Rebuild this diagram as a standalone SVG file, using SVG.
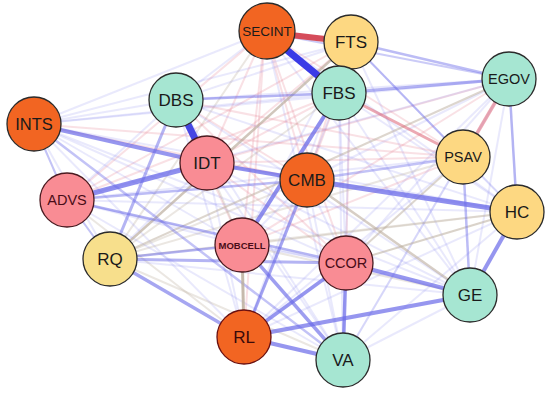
<svg xmlns="http://www.w3.org/2000/svg" width="550" height="393" viewBox="0 0 550 393">
<style>
.fb{stroke:#7a7aee;stroke-opacity:.17;stroke-width:2;fill:none}
.fr{stroke:#e27888;stroke-opacity:.22;stroke-width:2;fill:none}
.ft{stroke:#b8a898;stroke-opacity:.28;stroke-width:2;fill:none}
.b{stroke:#6a6ae8;fill:none}
.r{stroke:#e07080;fill:none}
.t{stroke:#bcae9e;fill:none}
.node circle{stroke:#2b2b2b;stroke-width:1.3}
.o circle{fill:#f26522}
.y circle{fill:#fdd882}
.g circle{fill:#a6e6d2}
.p circle{fill:#f98c94;stroke:#4a1a20}
text{font-family:"Liberation Sans",Arial,sans-serif;text-anchor:middle;dominant-baseline:central;fill:#1a1a1a;font-size:17px}
.p text{fill:#4a0c18}
.s14{font-size:14.5px}
.s13{font-size:13.5px}
.s16{font-size:16.5px}
.sm{font-size:9.5px;font-weight:bold}
</style>
<rect width="550" height="393" fill="#ffffff"/>
<g id="connectors">
<line class="fb" x1="265" y1="32" x2="176" y2="100"/>
<line class="fb" x1="265" y1="32" x2="34" y2="124"/>
<line class="fr" x1="265" y1="32" x2="207" y2="163"/>
<line class="fr" x1="265" y1="32" x2="463" y2="157"/>
<line class="fr" x1="265" y1="32" x2="307" y2="180"/>
<line class="fr" x1="265" y1="32" x2="67" y2="200"/>
<line class="fb" x1="265" y1="32" x2="517" y2="212"/>
<line class="fr" x1="265" y1="32" x2="242" y2="245"/>
<line class="ft" x1="265" y1="32" x2="110" y2="259"/>
<line class="fr" x1="265" y1="32" x2="346" y2="263"/>
<line class="fb" x1="265" y1="32" x2="470" y2="295"/>
<line class="fr" x1="265" y1="32" x2="244" y2="337"/>
<line class="fb" x1="265" y1="32" x2="343" y2="360"/>
<line class="fr" x1="351" y1="42" x2="339" y2="93"/>
<line class="fb" x1="351" y1="42" x2="176" y2="100"/>
<line class="fb" x1="351" y1="42" x2="34" y2="124"/>
<line class="fr" x1="351" y1="42" x2="207" y2="163"/>
<line class="fr" x1="351" y1="42" x2="307" y2="180"/>
<line class="fr" x1="351" y1="42" x2="67" y2="200"/>
<line class="fb" x1="351" y1="42" x2="517" y2="212"/>
<line class="fb" x1="351" y1="42" x2="242" y2="245"/>
<line class="fr" x1="351" y1="42" x2="346" y2="263"/>
<line class="fb" x1="351" y1="42" x2="470" y2="295"/>
<line class="fb" x1="351" y1="42" x2="244" y2="337"/>
<line class="fb" x1="351" y1="42" x2="343" y2="360"/>
<line class="fb" x1="339" y1="93" x2="34" y2="124"/>
<line class="fr" x1="339" y1="93" x2="207" y2="163"/>
<line class="fr" x1="339" y1="93" x2="307" y2="180"/>
<line class="fr" x1="339" y1="93" x2="67" y2="200"/>
<line class="fb" x1="339" y1="93" x2="517" y2="212"/>
<line class="ft" x1="339" y1="93" x2="110" y2="259"/>
<line class="fb" x1="339" y1="93" x2="346" y2="263"/>
<line class="fb" x1="339" y1="93" x2="470" y2="295"/>
<line class="fb" x1="339" y1="93" x2="244" y2="337"/>
<line class="fb" x1="339" y1="93" x2="343" y2="360"/>
<line class="fb" x1="509" y1="79" x2="176" y2="100"/>
<line class="fb" x1="509" y1="79" x2="34" y2="124"/>
<line class="fr" x1="509" y1="79" x2="207" y2="163"/>
<line class="fb" x1="509" y1="79" x2="307" y2="180"/>
<line class="fb" x1="509" y1="79" x2="67" y2="200"/>
<line class="fr" x1="509" y1="79" x2="242" y2="245"/>
<line class="fb" x1="509" y1="79" x2="346" y2="263"/>
<line class="fb" x1="509" y1="79" x2="470" y2="295"/>
<line class="fb" x1="509" y1="79" x2="244" y2="337"/>
<line class="fb" x1="509" y1="79" x2="343" y2="360"/>
<line class="fb" x1="176" y1="100" x2="34" y2="124"/>
<line class="fr" x1="176" y1="100" x2="463" y2="157"/>
<line class="fr" x1="176" y1="100" x2="307" y2="180"/>
<line class="fb" x1="176" y1="100" x2="67" y2="200"/>
<line class="fb" x1="176" y1="100" x2="517" y2="212"/>
<line class="fr" x1="176" y1="100" x2="242" y2="245"/>
<line class="fr" x1="176" y1="100" x2="346" y2="263"/>
<line class="fb" x1="176" y1="100" x2="470" y2="295"/>
<line class="fb" x1="176" y1="100" x2="244" y2="337"/>
<line class="fb" x1="176" y1="100" x2="343" y2="360"/>
<line class="fr" x1="34" y1="124" x2="463" y2="157"/>
<line class="fr" x1="34" y1="124" x2="307" y2="180"/>
<line class="fb" x1="34" y1="124" x2="517" y2="212"/>
<line class="fb" x1="34" y1="124" x2="242" y2="245"/>
<line class="fb" x1="34" y1="124" x2="110" y2="259"/>
<line class="fb" x1="34" y1="124" x2="346" y2="263"/>
<line class="fb" x1="34" y1="124" x2="470" y2="295"/>
<line class="fb" x1="34" y1="124" x2="244" y2="337"/>
<line class="fr" x1="207" y1="163" x2="463" y2="157"/>
<line class="fb" x1="207" y1="163" x2="517" y2="212"/>
<line class="ft" x1="207" y1="163" x2="242" y2="245"/>
<line class="fb" x1="207" y1="163" x2="110" y2="259"/>
<line class="fr" x1="207" y1="163" x2="346" y2="263"/>
<line class="fb" x1="207" y1="163" x2="470" y2="295"/>
<line class="fb" x1="207" y1="163" x2="244" y2="337"/>
<line class="fb" x1="207" y1="163" x2="343" y2="360"/>
<line class="fb" x1="463" y1="157" x2="67" y2="200"/>
<line class="fb" x1="463" y1="157" x2="517" y2="212"/>
<line class="fr" x1="463" y1="157" x2="242" y2="245"/>
<line class="ft" x1="463" y1="157" x2="110" y2="259"/>
<line class="fb" x1="463" y1="157" x2="244" y2="337"/>
<line class="fb" x1="463" y1="157" x2="343" y2="360"/>
<line class="fb" x1="307" y1="180" x2="242" y2="245"/>
<line class="ft" x1="307" y1="180" x2="110" y2="259"/>
<line class="fb" x1="307" y1="180" x2="346" y2="263"/>
<line class="fb" x1="307" y1="180" x2="343" y2="360"/>
<line class="fb" x1="67" y1="200" x2="517" y2="212"/>
<line class="fb" x1="67" y1="200" x2="242" y2="245"/>
<line class="fb" x1="67" y1="200" x2="470" y2="295"/>
<line class="ft" x1="67" y1="200" x2="244" y2="337"/>
<line class="fb" x1="67" y1="200" x2="343" y2="360"/>
<line class="ft" x1="517" y1="212" x2="242" y2="245"/>
<line class="ft" x1="517" y1="212" x2="110" y2="259"/>
<line class="fb" x1="517" y1="212" x2="244" y2="337"/>
<line class="fb" x1="517" y1="212" x2="343" y2="360"/>
<line class="fb" x1="242" y1="245" x2="346" y2="263"/>
<line class="ft" x1="242" y1="245" x2="470" y2="295"/>
<line class="fb" x1="110" y1="259" x2="470" y2="295"/>
<line class="ft" x1="110" y1="259" x2="343" y2="360"/>
<line class="fb" x1="470" y1="295" x2="343" y2="360"/>
<line class="t" stroke-width="2.5" stroke-opacity=".7" x1="110" y1="259" x2="351" y2="42"/>
<line class="t" stroke-width="2" stroke-opacity=".5" x1="110" y1="259" x2="509" y2="79"/>
<line class="t" stroke-width="2" stroke-opacity=".55" x1="346" y1="263" x2="517" y2="212"/>
<line class="t" stroke-width="2" stroke-opacity=".5" x1="346" y1="263" x2="463" y2="157"/>
<line class="t" stroke-width="2.5" stroke-opacity=".6" x1="307" y1="180" x2="470" y2="295"/>
<line class="b" stroke-width="2" stroke-opacity=".35" x1="265" y1="32" x2="509" y2="79"/>
<line class="b" stroke-width="2.5" stroke-opacity=".45" x1="351" y1="42" x2="509" y2="79"/>
<line class="b" stroke-width="3" stroke-opacity=".5" x1="339" y1="93" x2="509" y2="79"/>
<line class="b" stroke-width="2.5" stroke-opacity=".5" x1="509" y1="79" x2="517" y2="212"/>
<line class="b" stroke-width="2" stroke-opacity=".4" x1="351" y1="42" x2="463" y2="157"/>
<line class="b" stroke-width="2.5" stroke-opacity=".5" x1="176" y1="100" x2="339" y2="93"/>
<line class="b" stroke-width="3" stroke-opacity=".5" x1="176" y1="100" x2="110" y2="259"/>
<line class="b" stroke-width="2" stroke-opacity=".4" x1="34" y1="124" x2="67" y2="200"/>
<line class="b" stroke-width="2" stroke-opacity=".4" x1="67" y1="200" x2="110" y2="259"/>
<line class="b" stroke-width="2.5" stroke-opacity=".45" x1="67" y1="200" x2="307" y2="180"/>
<line class="b" stroke-width="2.5" stroke-opacity=".5" x1="67" y1="200" x2="346" y2="263"/>
<line class="b" stroke-width="2.5" stroke-opacity=".4" x1="34" y1="124" x2="343" y2="360"/>
<line class="b" stroke-width="2.5" stroke-opacity=".4" x1="307" y1="180" x2="463" y2="157"/>
<line class="b" stroke-width="2.5" stroke-opacity=".45" x1="463" y1="157" x2="470" y2="295"/>
<line class="b" stroke-width="2.5" stroke-opacity=".5" x1="110" y1="259" x2="242" y2="245"/>
<line class="b" stroke-width="3" stroke-opacity=".5" x1="110" y1="259" x2="346" y2="263"/>
<line class="r" stroke-width="3" stroke-opacity=".6" x1="339" y1="93" x2="463" y2="157"/>
<line class="r" stroke-width="3.5" stroke-opacity=".6" x1="509" y1="79" x2="463" y2="157"/>
<line class="t" stroke-width="3" stroke-opacity=".85" x1="242" y1="245" x2="244" y2="337"/>
<line class="b" stroke-width="3.5" stroke-opacity=".6" x1="110" y1="259" x2="244" y2="337"/>
<line class="b" stroke-width="3" stroke-opacity=".6" x1="307" y1="180" x2="244" y2="337"/>
<line class="b" stroke-width="3.5" stroke-opacity=".65" x1="242" y1="245" x2="343" y2="360"/>
<line class="b" stroke-width="3.5" stroke-opacity=".7" x1="244" y1="337" x2="346" y2="263"/>
<line class="b" stroke-width="3.5" stroke-opacity=".7" x1="346" y1="263" x2="343" y2="360"/>
<line class="b" stroke-width="4" stroke-opacity=".7" x1="244" y1="337" x2="343" y2="360"/>
<line class="b" stroke-width="4" stroke-opacity=".7" x1="244" y1="337" x2="470" y2="295"/>
<line class="b" stroke-width="4" stroke-opacity=".7" x1="346" y1="263" x2="470" y2="295"/>
<line class="b" stroke-width="4" stroke-opacity=".7" x1="517" y1="212" x2="470" y2="295"/>
<line class="b" stroke-width="4" stroke-opacity=".75" x1="339" y1="93" x2="242" y2="245"/>
<line class="b" stroke-width="5" stroke-opacity=".75" x1="307" y1="180" x2="517" y2="212"/>
<line class="b" stroke-width="4" stroke-opacity=".75" x1="207" y1="163" x2="307" y2="180"/>
<line class="b" stroke-width="5" stroke-opacity=".75" x1="67" y1="200" x2="207" y2="163"/>
<line class="b" stroke-width="4" stroke-opacity=".7" x1="34" y1="124" x2="207" y2="163"/>
<line stroke="#4646e2" stroke-width="7" x1="176" y1="100" x2="207" y2="163"/>
<line stroke="#3a3ae6" stroke-width="7" x1="265" y1="32" x2="339" y2="93"/>
<line stroke="#d54c5a" stroke-width="6" x1="265" y1="32" x2="351" y2="42"/>
</g>
<g id="SECINT" class="node o"><circle cx="267" cy="31" r="28"/><text x="267" y="31" class="s13">SECINT</text></g>
<g id="FTS" class="node y"><circle cx="351" cy="42" r="27"/><text x="351" y="42">FTS</text></g>
<g id="FBS" class="node g"><circle cx="339" cy="93" r="27"/><text x="339" y="93">FBS</text></g>
<g id="EGOV" class="node g"><circle cx="509" cy="79" r="27"/><text x="509" y="79" class="s14">EGOV</text></g>
<g id="DBS" class="node g"><circle cx="176" cy="100" r="27"/><text x="176" y="100">DBS</text></g>
<g id="INTS" class="node o"><circle cx="34" cy="124" r="27"/><text x="34" y="124" class="s16">INTS</text></g>
<g id="IDT" class="node p"><circle cx="207" cy="163" r="27"/><text x="207" y="163" style="fill:#1a1a1a">IDT</text></g>
<g id="PSAV" class="node y"><circle cx="463" cy="157" r="27"/><text x="463" y="157" class="s14">PSAV</text></g>
<g id="CMB" class="node o"><circle cx="307" cy="180" r="27"/><text x="307" y="180">CMB</text></g>
<g id="ADVS" class="node p"><circle cx="67" cy="200" r="27"/><text x="67" y="200" class="s14">ADVS</text></g>
<g id="HC" class="node y"><circle cx="517" cy="212" r="27"/><text x="517" y="212">HC</text></g>
<g id="MOBCELL" class="node p"><circle cx="242" cy="245" r="27"/><text x="242" y="245" class="sm">MOBCELL</text></g>
<g id="RQ" class="node y"><circle cx="110" cy="259" r="27" style="fill:#f7df8c"/><text x="110" y="259">RQ</text></g>
<g id="CCOR" class="node p"><circle cx="346" cy="263" r="27"/><text x="346" y="263" class="s14">CCOR</text></g>
<g id="GE" class="node g"><circle cx="470" cy="295" r="27"/><text x="470" y="295">GE</text></g>
<g id="RL" class="node o"><circle cx="244" cy="337" r="27" style="stroke:#6a1010"/><text x="244" y="337" style="fill:#3a0a0a">RL</text></g>
<g id="VA" class="node g"><circle cx="343" cy="360" r="27"/><text x="343" y="360">VA</text></g>
</svg>
